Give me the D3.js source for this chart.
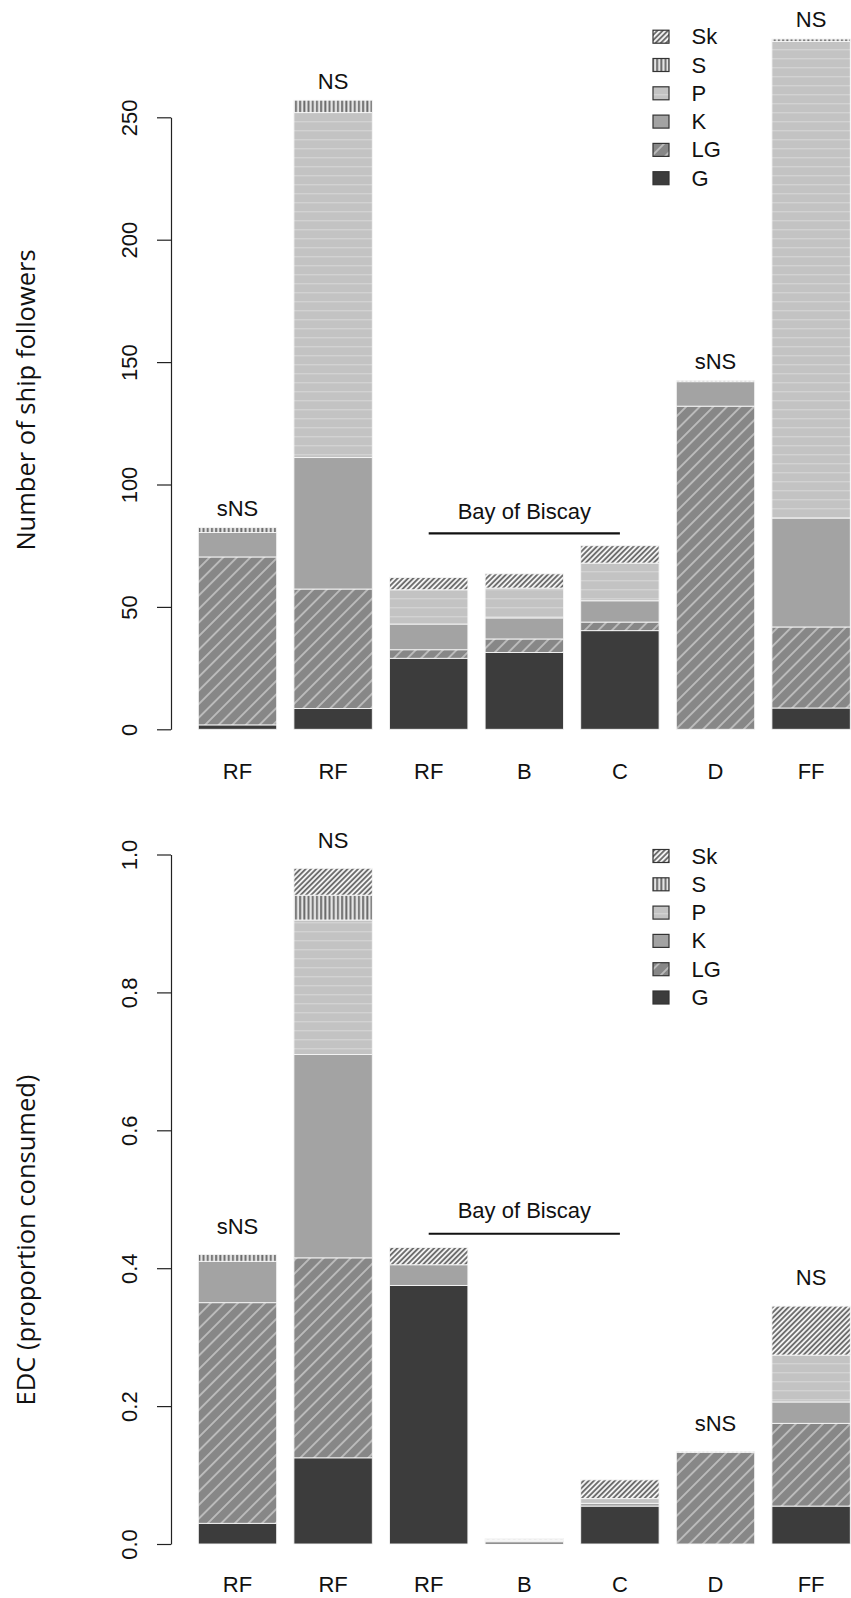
<!DOCTYPE html>
<html>
<head>
<meta charset="utf-8">
<script src="https://cdn.jsdelivr.net/npm/d3@7"></script>
<style>
  html, body { margin: 0; padding: 0; background: #fff; }
  svg { display: block; }
</style>
</head>
<body>
<svg id="chart" width="851" height="1598"></svg>
<script>
// ---------------- DATA ----------------
const categories = ["RF", "RF", "RF", "B", "C", "D", "FF"];
const sigLabels = ["sNS", "NS", "", "", "", "sNS", "NS"];
const groups = ["G", "LG", "K", "P", "S", "Sk"];
const legendOrder = ["Sk", "S", "P", "K", "LG", "G"];

// Panel 1: number of ship followers
const followersG  = [1.8, 8.5, 29.0, 31.4, 40.3, 0, 8.7];
const followersLG = [68.6, 48.8, 3.5, 5.5, 3.5, 132.0, 33.1];
const followersK  = [10.0, 53.7, 10.5, 8.6, 8.7, 10.0, 44.5];
const followersP  = [0, 141.0, 14.0, 12.2, 15.4, 0, 194.7];
const followersS  = [2.0, 5.0, 0, 0, 0, 0.5, 1.0];
const followersSk = [0, 0, 5.0, 5.8, 7.1, 0, 0];
const followersTicks = [0, 50, 100, 150, 200, 250];

// Panel 2: EDC (proportion consumed)
const edcG  = [0.030, 0.125, 0.375, 0.003, 0.055, 0, 0.055];
const edcLG = [0.320, 0.290, 0, 0.001, 0, 0.133, 0.120];
const edcK  = [0.060, 0.295, 0.030, 0.001, 0.004, 0, 0.031];
const edcP  = [0, 0.195, 0, 0.001, 0.007, 0, 0.068];
const edcS  = [0.010, 0.036, 0, 0.001, 0, 0.001, 0];
const edcSk = [0, 0.039, 0.025, 0.001, 0.027, 0, 0.071];
const edcTicks = [0.0, 0.2, 0.4, 0.6, 0.8, 1.0];

const biscayLabel = "Bay of Biscay";

// ---------------- LAYOUT ----------------
const svg = d3.select("#chart");
const axisX = 171;
const fontR = "'Liberation Sans', Arial, Helvetica, sans-serif";
const fontTitle = "'Open Sans', 'Noto Sans', sans-serif";

const x = d3.scaleBand()
  .domain(d3.range(categories.length))
  .range([189.7, 189.7 + 95.6 * categories.length])
  .paddingInner(0.18)
  .paddingOuter(0.09);

// ---------------- PATTERNS ----------------
const defs = svg.append("defs");
function diagPattern(id, bg, fg, spacing, sw) {
  const p = defs.append("pattern").attr("id", id)
    .attr("patternUnits", "userSpaceOnUse")
    .attr("width", spacing).attr("height", spacing)
    .attr("patternTransform", "rotate(45)");
  p.append("rect").attr("width", spacing).attr("height", spacing).attr("fill", bg);
  p.append("line").attr("x1", spacing / 2).attr("y1", 0).attr("x2", spacing / 2).attr("y2", spacing)
    .attr("stroke", fg).attr("stroke-width", sw);
}
diagPattern("patLG", "#878787", "#e2e2e2", 9.6, 1.1);
diagPattern("patSk", "#f2f2f2", "#6e6e6e", 3.7, 1.9);
(function () {
  const p = defs.append("pattern").attr("id", "patS")
    .attr("patternUnits", "userSpaceOnUse").attr("width", 4.2).attr("height", 10);
  p.append("rect").attr("width", 4.2).attr("height", 10).attr("fill", "#e4e4e4");
  p.append("rect").attr("x", 1).attr("width", 1.9).attr("height", 10).attr("fill", "#6c6c6c");
})();
(function () {
  const p = defs.append("pattern").attr("id", "patP")
    .attr("patternUnits", "userSpaceOnUse").attr("width", 10).attr("height", 9);
  p.append("rect").attr("width", 10).attr("height", 9).attr("fill", "#c3c3c3");
  p.append("rect").attr("y", 4).attr("width", 10).attr("height", 1.4).attr("fill", "#d2d2d2");
})();

const fills = {
  G: "#3c3c3c",
  LG: "url(#patLG)",
  K: "#a3a3a3",
  P: "url(#patP)",
  S: "url(#patS)",
  Sk: "url(#patSk)"
};

// ---------------- PANELS ----------------
const panels = [
  {
    values: { G: followersG, LG: followersLG, K: followersK, P: followersP, S: followersS, Sk: followersSk },
    ticks: followersTicks,
    fmt: d3.format("d"),
    domain: [0, 250],
    range: [729.3, 117.3],
    title: "Number of ship followers",
    titleY: 400,
    sigOffset: 7.8,
    biscayLine: 80,
    biscayText: 89,
    legendTop: 36.7,
    labelY: 771.5
  },
  {
    values: { G: edcG, LG: edcLG, K: edcK, P: edcP, S: edcS, Sk: edcSk },
    ticks: edcTicks,
    fmt: d3.format(".1f"),
    domain: [0, 1],
    range: [1544, 854.5],
    title: "EDC (proportion consumed)",
    titleY: 1240,
    sigOffset: 0.041,
    biscayLine: 0.45,
    biscayText: 0.483,
    legendTop: 856,
    labelY: 1584
  }
];

panels.forEach(pn => {
  const y = d3.scaleLinear().domain(pn.domain).range(pn.range);
  const g = svg.append("g");

  const table = categories.map((c, i) => {
    const row = { idx: i };
    groups.forEach(k => { row[k] = pn.values[k][i]; });
    return row;
  });
  const stacked = d3.stack().keys(groups)(table);

  // bars
  stacked.forEach(layer => {
    g.append("g").selectAll("rect")
      .data(layer.filter(d => d[1] - d[0] > 0))
      .join("rect")
      .attr("x", d => x(d.data.idx))
      .attr("width", x.bandwidth())
      .attr("y", d => y(d[1]))
      .attr("height", d => y(d[0]) - y(d[1]))
      .attr("fill", fills[layer.key])
      .attr("stroke", "#f6f6f6")
      .attr("stroke-width", 0.9);
  });

  // y axis
  const axis = d3.axisLeft(y).tickValues(pn.ticks).tickFormat(pn.fmt)
    .tickSizeInner(14).tickSizeOuter(0);
  const ag = g.append("g").attr("transform", `translate(${axisX},0)`).call(axis);
  ag.select(".domain").attr("stroke", "#222").attr("stroke-width", 1.2);
  ag.selectAll(".tick line").attr("stroke", "#222").attr("stroke-width", 1.2);
  ag.selectAll(".tick text")
    .attr("x", null).attr("dy", null)
    .attr("text-anchor", "middle")
    .attr("dominant-baseline", "central")
    .attr("transform", `translate(${129.5 - axisX},0) rotate(-90)`)
    .attr("font-family", fontR)
    .attr("font-size", 22)
    .attr("fill", "#111");

  // category labels
  g.append("g").selectAll("text")
    .data(categories)
    .join("text")
    .attr("x", (d, i) => x(i) + x.bandwidth() / 2)
    .attr("y", pn.labelY)
    .attr("text-anchor", "middle")
    .attr("dominant-baseline", "central")
    .attr("font-family", fontR)
    .attr("font-size", 22)
    .attr("fill", "#111")
    .text(d => d);

  // significance labels
  const totals = table.map(r => d3.sum(groups, k => r[k]));
  g.append("g").selectAll("text")
    .data(sigLabels)
    .join("text")
    .attr("x", (d, i) => x(i) + x.bandwidth() / 2)
    .attr("y", (d, i) => y(totals[i] + pn.sigOffset))
    .attr("text-anchor", "middle")
    .attr("dominant-baseline", "central")
    .attr("font-family", fontR)
    .attr("font-size", 22)
    .attr("fill", "#111")
    .text(d => d);

  // Bay of Biscay
  const cx2 = x(2) + x.bandwidth() / 2, cx4 = x(4) + x.bandwidth() / 2;
  g.append("line")
    .attr("x1", cx2).attr("x2", cx4)
    .attr("y1", y(pn.biscayLine)).attr("y2", y(pn.biscayLine))
    .attr("stroke", "#111").attr("stroke-width", 2.2);
  g.append("text")
    .attr("x", (cx2 + cx4) / 2)
    .attr("y", y(pn.biscayText))
    .attr("text-anchor", "middle")
    .attr("dominant-baseline", "central")
    .attr("font-family", fontR)
    .attr("font-size", 22)
    .attr("fill", "#111")
    .text(biscayLabel);

  // axis title
  g.append("text")
    .attr("transform", `translate(25,${pn.titleY}) rotate(-90)`)
    .attr("text-anchor", "middle")
    .attr("dominant-baseline", "central")
    .attr("font-family", fontTitle)
    .attr("font-size", 25.5)
    .attr("fill", "#111")
    .text(pn.title);

  // legend
  const lg = g.append("g");
  legendOrder.forEach((k, i) => {
    const ly = pn.legendTop + i * 28.3;
    lg.append("rect")
      .attr("x", 653).attr("y", ly - 6.5)
      .attr("width", 16).attr("height", 13)
      .attr("fill", fills[k])
      .attr("stroke", "#333").attr("stroke-width", 1.2);
    lg.append("text")
      .attr("x", 691.5).attr("y", ly)
      .attr("dominant-baseline", "central")
      .attr("font-family", fontR)
      .attr("font-size", 22)
      .attr("fill", "#111")
      .text(k);
  });
});
</script>
</body>
</html>
